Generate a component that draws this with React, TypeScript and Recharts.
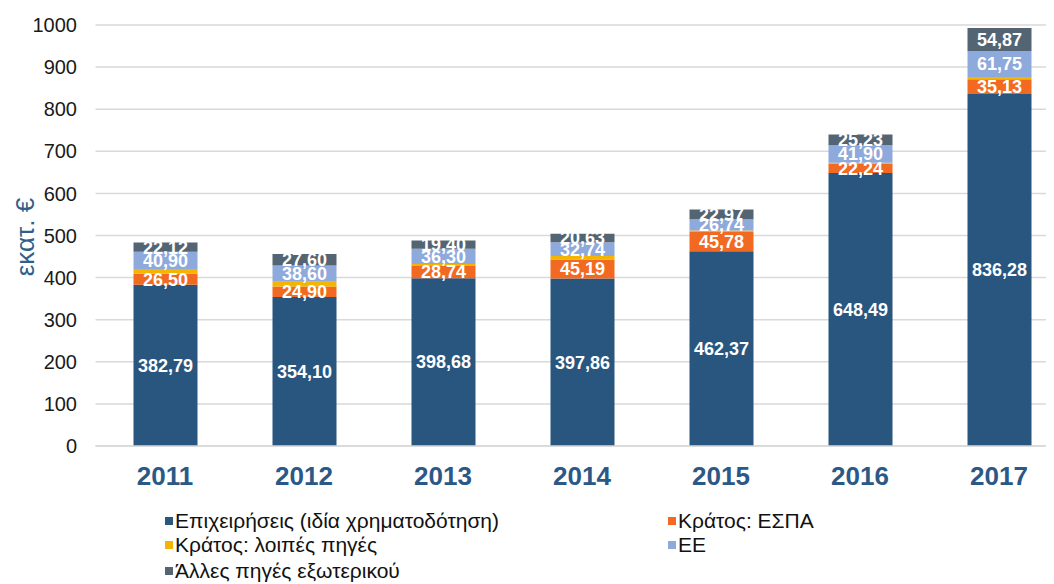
import React from 'react';
import { BarChart, Bar, XAxis, YAxis, CartesianGrid, LabelList } from 'recharts';

const years = ['2011', '2012', '2013', '2014', '2015', '2016', '2017'];
const businessValues = [382.79, 354.1, 398.68, 397.86, 462.37, 648.49, 836.28];
const espaValues = [26.5, 24.9, 28.74, 45.19, 45.78, 22.24, 35.13];
const otherStateValues = [11, 11, 5, 8, 4, 2, 5];
const euValues = [40.9, 38.6, 36.3, 32.74, 26.74, 41.9, 61.75];
const abroadValues = [22.12, 27.6, 19.4, 20.63, 22.97, 25.23, 54.87];
const yTicks = [0, 100, 200, 300, 400, 500, 600, 700, 800, 900, 1000];

const seriesNames = {
  business: 'Επιχειρήσεις (ιδία χρηματοδότηση)',
  espa: 'Κράτος: ΕΣΠΑ',
  otherState: 'Κράτος: λοιπές πηγές',
  eu: 'ΕΕ',
  abroad: 'Άλλες πηγές εξωτερικού',
};

const colors = {
  business: '#29567F',
  espa: '#F26A21',
  otherState: '#F4B400',
  eu: '#8EA9DC',
  abroad: '#536473',
};

const data = years.map((y, i) => ({
  year: y,
  business: businessValues[i],
  espa: espaValues[i],
  otherState: otherStateValues[i],
  eu: euValues[i],
  abroad: abroadValues[i],
}));

const FONT = '"Liberation Sans", Arial, Helvetica, sans-serif';

const fmt = (v: any) => Number(v).toFixed(2).replace('.', ',');

const legendItems: { key: keyof typeof colors; left: number; top: number }[] = [
  { key: 'business', left: 157, top: 501 },
  { key: 'espa', left: 660, top: 501 },
  { key: 'otherState', left: 157, top: 525 },
  { key: 'eu', left: 660, top: 525 },
  { key: 'abroad', left: 157, top: 551 },
];

const labelStyle = { fill: '#ffffff', fontSize: 18, fontWeight: 700, fontFamily: FONT };

const YLabel = () => (
  <text
    x={17}
    y={229}
    transform="rotate(-90 17 229)"
    textAnchor="middle"
    dominantBaseline="central"
    fill="#2F5F8A"
    fontSize={26}
    fontFamily={FONT}
  >
    εκατ. €
  </text>
);

export default function App() {
  return (
    <div style={{ position: 'relative', width: 1046, height: 576, fontFamily: FONT }}>
      <BarChart
        width={1046}
        height={576}
        data={data}
        margin={{ top: 17, right: -14.5, bottom: 88, left: 0 }}
        barSize={64}
      >
        <CartesianGrid vertical={false} stroke="#d9d9d9" strokeWidth={1.5} />
        <XAxis
          dataKey="year"
          height={50}
          axisLine={{ stroke: '#d9d9d9', strokeWidth: 1.5 }}
          tickLine={false}
          tickSize={0}
          tickMargin={21}
          tick={{ fill: '#2B5886', fontSize: 26, fontWeight: 700, fontFamily: FONT }}
        />
        <YAxis
          width={87.5}
          domain={[0, 1000]}
          ticks={yTicks}
          interval={0}
          axisLine={false}
          tickLine={false}
          tickSize={0}
          tickMargin={18.5}
          tick={{ fill: '#1a1a1a', fontSize: 20, fontFamily: FONT }}
          label={{ content: () => <YLabel /> }}
        />
        <Bar dataKey="business" stackId="a" fill={colors.business} isAnimationActive={false}>
          <LabelList dataKey="business" position="center" formatter={fmt} style={labelStyle} />
        </Bar>
        <Bar dataKey="espa" stackId="a" fill={colors.espa} isAnimationActive={false}>
          <LabelList dataKey="espa" position="center" formatter={fmt} style={labelStyle} />
        </Bar>
        <Bar dataKey="otherState" stackId="a" fill={colors.otherState} isAnimationActive={false} />
        <Bar dataKey="eu" stackId="a" fill={colors.eu} isAnimationActive={false}>
          <LabelList dataKey="eu" position="center" formatter={fmt} style={labelStyle} />
        </Bar>
        <Bar dataKey="abroad" stackId="a" fill={colors.abroad} isAnimationActive={false}>
          <LabelList dataKey="abroad" position="center" formatter={fmt} style={labelStyle} />
        </Bar>
      </BarChart>
      {legendItems.map((it) => (
        <div
          key={it.key}
          style={{
            position: 'absolute',
            left: it.left,
            top: it.top,
            height: 24,
            lineHeight: '24px',
            display: 'flex',
            alignItems: 'center',
            fontSize: 21,
            color: '#111',
            whiteSpace: 'nowrap',
          }}
        >
          <span
            style={{
              display: 'inline-block',
              width: 8,
              height: 8,
              background: colors[it.key],
              marginRight: 2,
            }}
          />
          <span>{seriesNames[it.key]}</span>
        </div>
      ))}
    </div>
  );
}
